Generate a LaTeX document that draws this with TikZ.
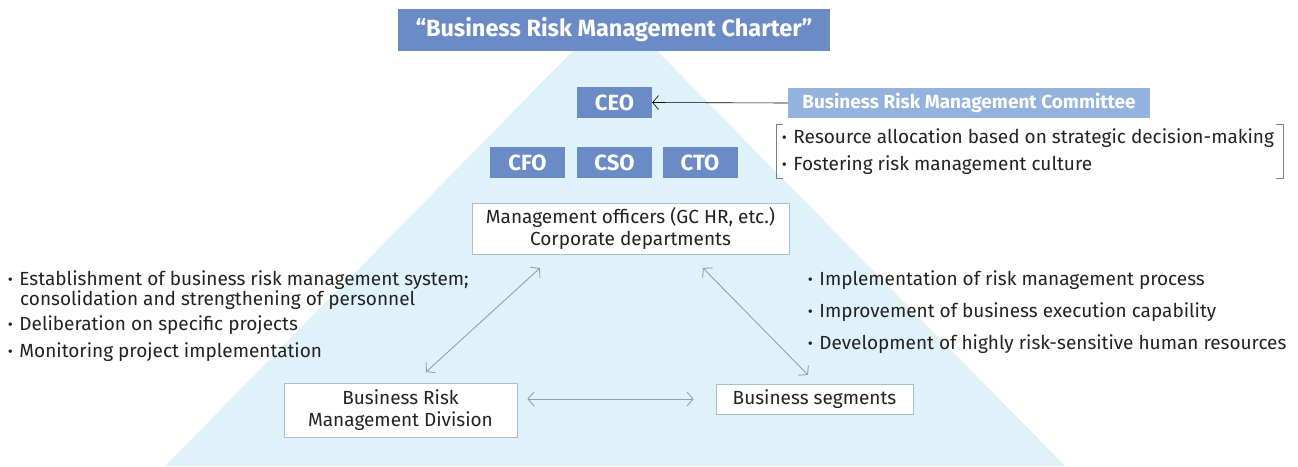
\documentclass[tikz,border=0pt]{standalone}
\usepackage{fontspec}
\setmainfont{Fira Sans}
\usetikzlibrary{arrows.meta}
\definecolor{tri}{HTML}{DFF1F9}
\definecolor{dark}{HTML}{6B8BC7}
\definecolor{light}{HTML}{93B3DE}
\definecolor{edge}{HTML}{A9BFC9}
\definecolor{arr}{HTML}{8FA3AE}
\definecolor{txt}{HTML}{222222}
\newcommand{\bul}{{\bfseries ·}\hspace{0.35em}}
\tikzset{
  x=1pt, y=-1pt,
  body/.style={font=\fontsize{19}{22}\selectfont, text=txt},
  role/.style={fill=dark, text=white, font=\fontsize{22}{24}\selectfont\bfseries, minimum width=75pt, minimum height=31pt, inner sep=0pt},
  wbox/.style={draw=edge, fill=white, body, align=center, inner sep=0pt, line width=0.8pt},
  link/.style={draw=arr, line width=0.9pt, {Straight Barb[length=6pt,width=14pt]}-{Straight Barb[length=6pt,width=14pt]}},
  bl/.style={body, anchor=west, inner sep=0pt}
}
\begin{document}
\begin{tikzpicture}
\useasboundingbox (0,0) rectangle (1298,466);
\fill[tri] (615,8) -- (1065,466) -- (165,466) -- cycle;
% charter
\node[fill=dark, text=white, font=\fontsize{23.5}{26}\selectfont\bfseries, minimum width=432pt, minimum height=42pt, inner sep=0pt] (charter) at (614,30) {“Business Risk Management Charter”};
% roles
\node[role] (ceo) at (614.5,102.5) {CEO};
\node[role] (cfo) at (527.5,162.5) {CFO};
\node[role] (cso) at (614.5,162.5) {CSO};
\node[role] (cto) at (700,162.5) {CTO};
% committee
\node[fill=light, text=white, font=\fontsize{19}{22}\selectfont\bfseries, minimum width=362pt, minimum height=30pt, inner sep=0pt] (comm) at (969,103) {Business Risk Management Committee};
\draw[black, line width=0.6pt, -{Straight Barb[length=6pt,width=14pt]}] (comm.west) -- (ceo.east);
% bracket
\draw[gray, line width=0.7pt] (783,124) -- (776,124) -- (776,178) -- (783,178);
\draw[gray, line width=0.7pt] (1276,124) -- (1283,124) -- (1283,178) -- (1276,178);
\node[bl] (c1) at (782,138) {\bul Resource allocation based on strategic decision-making};
\node[bl] (c2) at (782,165) {\bul Fostering risk management culture};
% management
\node[wbox, minimum width=317pt, minimum height=51pt] (mgmt) at (630.5,228.5) {Management officers (GC HR, etc.)\\Corporate departments};
% left text
\node[bl] (l1) at (8,280) {\bul Establishment of business risk management system;};
\node[bl] (l1b) at (20,300) {consolidation and strengthening of personnel};
\node[bl] (l2) at (8,325) {\bul Deliberation on specific projects};
\node[bl] (l3) at (8,352) {\bul Monitoring project implementation};
% right text
\node[bl] (r1) at (808,280) {\bul Implementation of risk management process};
\node[bl] (r2) at (808,312) {\bul Improvement of business execution capability};
\node[bl] (r3) at (808,344) {\bul Development of highly risk-sensitive human resources};
% bottom boxes
\node[wbox, minimum width=233pt, minimum height=54pt] (brmd) at (400.5,410) {Business Risk\\Management Division};
\node[wbox, minimum width=197pt, minimum height=30pt] (seg) at (814.5,399) {Business segments};
% connectors
\coordinate (a1) at (540,268); \coordinate (a2) at (426,372);
\coordinate (b1) at (703,268); \coordinate (b2) at (808,375);
\draw[link] (a1) -- (a2);
\draw[link] (b1) -- (b2);
\draw[link] ([xshift=10pt]brmd.east |- seg.center) -- ([xshift=-22pt]seg.west);
\end{tikzpicture}
\end{document}
